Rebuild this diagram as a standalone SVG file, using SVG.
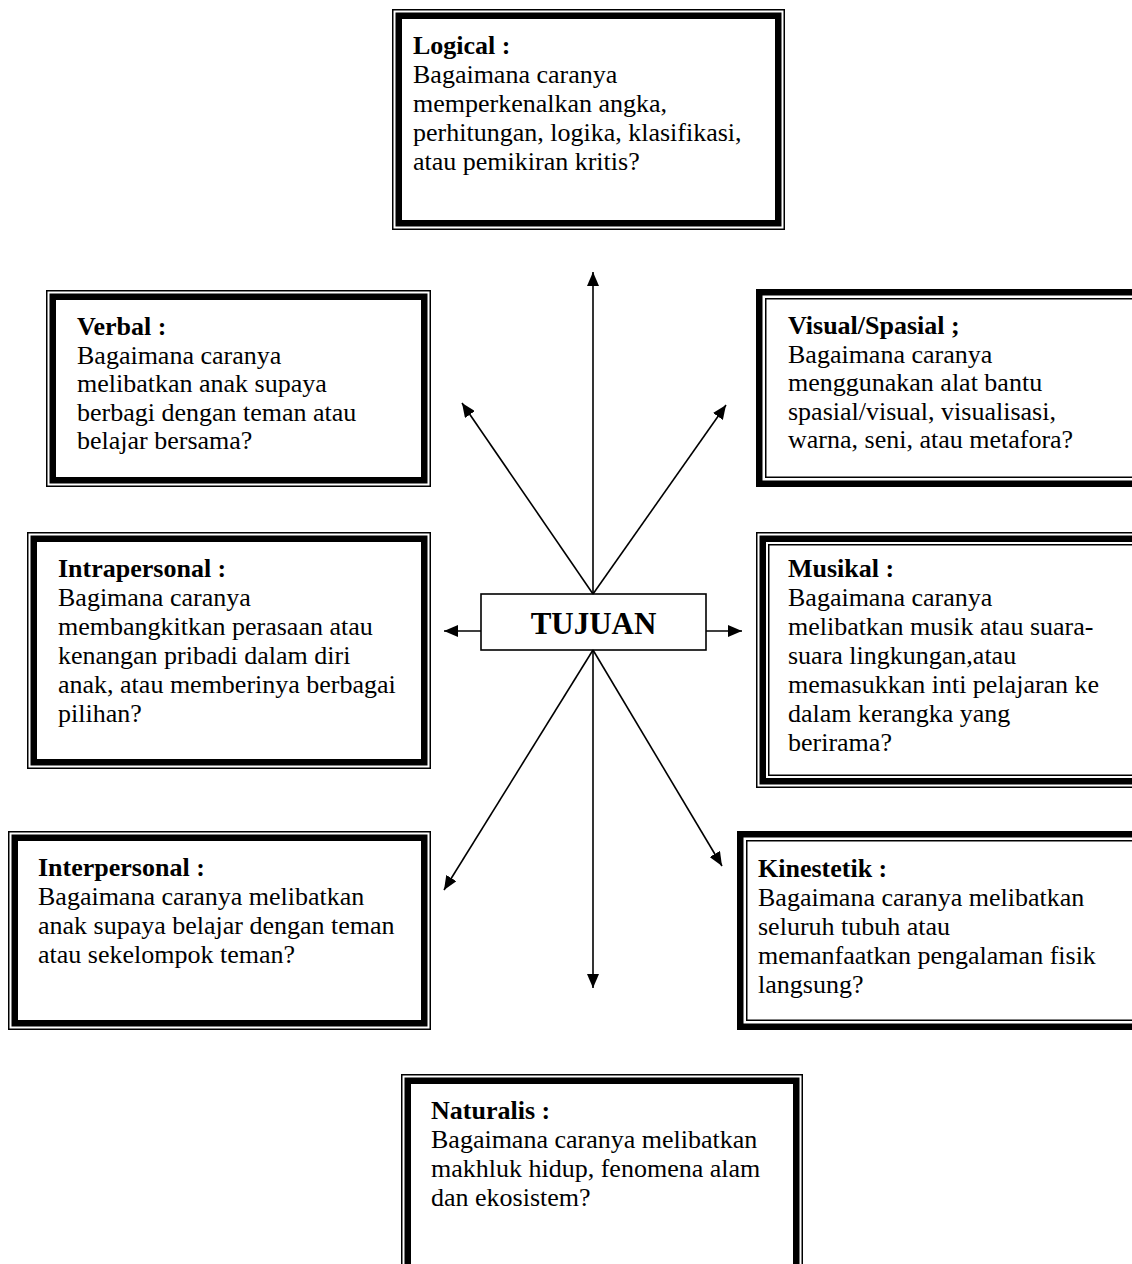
<svg xmlns="http://www.w3.org/2000/svg" width="1132" height="1264" viewBox="0 0 1132 1264">
<defs>
<style>
.bg{fill:#fff}
.thin{fill:none;stroke:#000;stroke-width:1.5}
.thick{fill:none;stroke:#000;stroke-width:6.5}
.box{fill:none;stroke:#000;stroke-width:1.6}
.t{font-family:"Liberation Serif","Times New Roman",serif;font-size:26px;fill:#000}
.b{font-weight:bold}
.conn{stroke:#000;stroke-width:1.6;fill:none;marker-end:url(#ah)}
</style>
<marker id="ah" markerUnits="userSpaceOnUse" markerWidth="14" markerHeight="12" viewBox="0 0 14 12" refX="14" refY="6" orient="auto">
<path d="M0,0 L14,6 L0,12 z" fill="#000"/>
</marker>
</defs>
<rect class="bg" x="0" y="0" width="1132" height="1264"/>

<g id="connectors">
<line class="conn" x1="593" y1="594" x2="593" y2="272"/>
<line class="conn" x1="593" y1="594" x2="462" y2="403"/>
<line class="conn" x1="593" y1="594" x2="726" y2="405"/>
<line class="conn" x1="481" y1="631" x2="444" y2="631"/>
<line class="conn" x1="706" y1="631" x2="742" y2="631"/>
<line class="conn" x1="593" y1="650" x2="593" y2="988"/>
<line class="conn" x1="593" y1="650" x2="444" y2="890"/>
<line class="conn" x1="593" y1="650" x2="722" y2="866"/>
</g>

<g id="logical">
<rect class="thin" x="392.75" y="9.75" width="391.5" height="219.5"/>
<rect class="thick" x="398.75" y="15.75" width="379.5" height="207.5"/>
<text class="t" x="413" y="54"><tspan class="b">Logical :</tspan><tspan x="413" dy="29">Bagaimana caranya</tspan><tspan x="413" dy="29">memperkenalkan angka,</tspan><tspan x="413" dy="29">perhitungan, logika, klasifikasi,</tspan><tspan x="413" dy="29">atau pemikiran kritis?</tspan></text>
</g>

<g id="verbal">
<rect class="thin" x="46.75" y="290.75" width="383.5" height="195.5"/>
<rect class="thick" x="52.75" y="296.75" width="371.5" height="183.5"/>
<text class="t" x="77" y="335"><tspan class="b">Verbal :</tspan><tspan x="77" dy="28.5">Bagaimana caranya</tspan><tspan x="77" dy="28.5">melibatkan anak supaya</tspan><tspan x="77" dy="28.5">berbagi dengan teman atau</tspan><tspan x="77" dy="28.5">belajar bersama?</tspan></text>
</g>

<g id="visual">
<rect class="thick" x="759.25" y="292.25" width="390" height="191.5"/>
<rect class="thin" x="765.75" y="298.75" width="380" height="178.5"/>
<text class="t" x="788" y="334"><tspan class="b">Visual/Spasial ;</tspan><tspan x="788" dy="28.5">Bagaimana caranya</tspan><tspan x="788" dy="28.5">menggunakan alat bantu</tspan><tspan x="788" dy="28.5">spasial/visual, visualisasi,</tspan><tspan x="788" dy="28.5">warna, seni, atau metafora?</tspan></text>
</g>

<g id="intrapersonal">
<rect class="thin" x="27.75" y="532.75" width="402.5" height="235.5"/>
<rect class="thick" x="33.75" y="538.75" width="390.5" height="223.5"/>
<text class="t" x="58" y="577"><tspan class="b">Intrapersonal :</tspan><tspan x="58" dy="29">Bagimana caranya</tspan><tspan x="58" dy="29">membangkitkan perasaan atau</tspan><tspan x="58" dy="29">kenangan pribadi dalam diri</tspan><tspan x="58" dy="29">anak, atau memberinya berbagai</tspan><tspan x="58" dy="29">pilihan?</tspan></text>
</g>

<g id="tujuan">
<rect class="box" x="481" y="594" width="225" height="56" fill="#fff"/>
<text class="t b" x="593.5" y="634" text-anchor="middle" style="font-size:31px">TUJUAN</text>
</g>

<g id="musikal">
<rect class="thin" x="756.75" y="532.75" width="400" height="254.5"/>
<rect class="thick" x="762.75" y="538.75" width="390" height="242.5"/>
<rect class="thin" x="768.75" y="544.75" width="380" height="230.5"/>
<text class="t" x="788" y="577"><tspan class="b">Musikal :</tspan><tspan x="788" dy="29">Bagaimana caranya</tspan><tspan x="788" dy="29">melibatkan musik atau suara-</tspan><tspan x="788" dy="29">suara lingkungan,atau</tspan><tspan x="788" dy="29">memasukkan inti pelajaran ke</tspan><tspan x="788" dy="29">dalam kerangka yang</tspan><tspan x="788" dy="29">berirama?</tspan></text>
</g>

<g id="interpersonal">
<rect class="thin" x="8.75" y="831.75" width="421.5" height="197.5"/>
<rect class="thick" x="14.75" y="837.75" width="409.5" height="185.5"/>
<text class="t" x="38" y="876"><tspan class="b">Interpersonal :</tspan><tspan x="38" dy="29">Bagaimana caranya melibatkan</tspan><tspan x="38" dy="29">anak supaya belajar dengan teman</tspan><tspan x="38" dy="29">atau sekelompok teman?</tspan></text>
</g>

<g id="kinestetik">
<rect class="thick" x="740.25" y="834.25" width="410" height="192.5"/>
<rect class="thin" x="746.75" y="840.75" width="400" height="179.5"/>
<text class="t" x="758" y="877"><tspan class="b">Kinestetik :</tspan><tspan x="758" dy="29">Bagaimana caranya melibatkan</tspan><tspan x="758" dy="29">seluruh tubuh atau</tspan><tspan x="758" dy="29">memanfaatkan pengalaman fisik</tspan><tspan x="758" dy="29">langsung?</tspan></text>
</g>

<g id="naturalis">
<rect class="thin" x="401.75" y="1074.75" width="400.5" height="210"/>
<rect class="thick" x="407.75" y="1080.75" width="388.5" height="210"/>
<text class="t" x="431" y="1119"><tspan class="b">Naturalis :</tspan><tspan x="431" dy="29">Bagaimana caranya melibatkan</tspan><tspan x="431" dy="29">makhluk hidup, fenomena alam</tspan><tspan x="431" dy="29">dan ekosistem?</tspan></text>
</g>
</svg>
